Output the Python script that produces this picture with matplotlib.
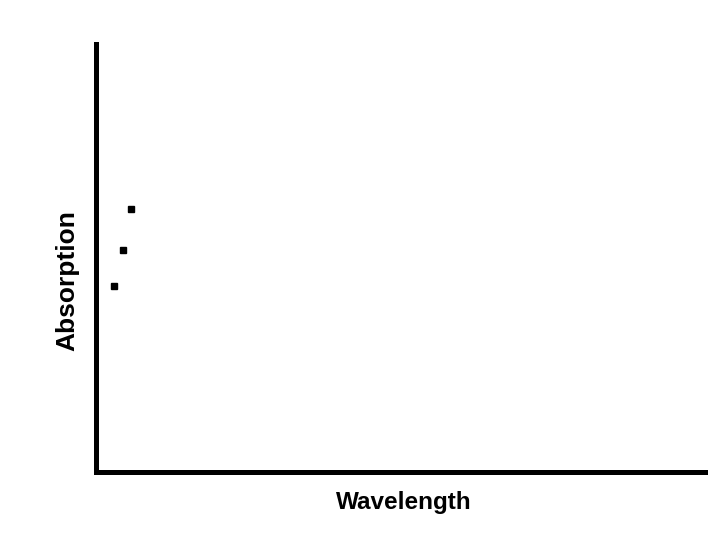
import matplotlib
matplotlib.use("Agg")
import matplotlib.pyplot as plt

x_vals = [3.0, 4.5, 5.9]
y_vals = [43.5, 52.0, 61.6]
x_label = "Wavelength"
y_label = "Absorption"

fig = plt.figure(figsize=(7.2, 5.4), dpi=100)
W, H = 720, 540
left, right, bottom, top = 95.5, 704.5, 472, 44.5
ax = fig.add_axes([left / W, 1 - bottom / H, (right - left) / W, (bottom - top) / H])
ax.set_xlim(0, 100)
ax.set_ylim(0, 100)
ax.plot(x_vals, y_vals, linestyle="none", marker="s", markersize=4.3, color="black")

for s in ["top", "right"]:
    ax.spines[s].set_visible(False)
for s in ["left", "bottom"]:
    ax.spines[s].set_linewidth(3.6)
    ax.spines[s].set_capstyle("projecting")
ax.set_xticks([])
ax.set_yticks([])

font = dict(family="Liberation Sans", weight="bold")
ax.set_xlabel(x_label, fontsize=17.5, **font)
ax.set_ylabel(y_label, fontsize=19, **font)
ax.xaxis.set_label_coords(0.506, -0.0713)
ax.xaxis.label.set_va("center")
ax.yaxis.set_label_coords(-0.0468, 0.448)
ax.yaxis.label.set_va("center")

fig.savefig("out.png", dpi=100)
